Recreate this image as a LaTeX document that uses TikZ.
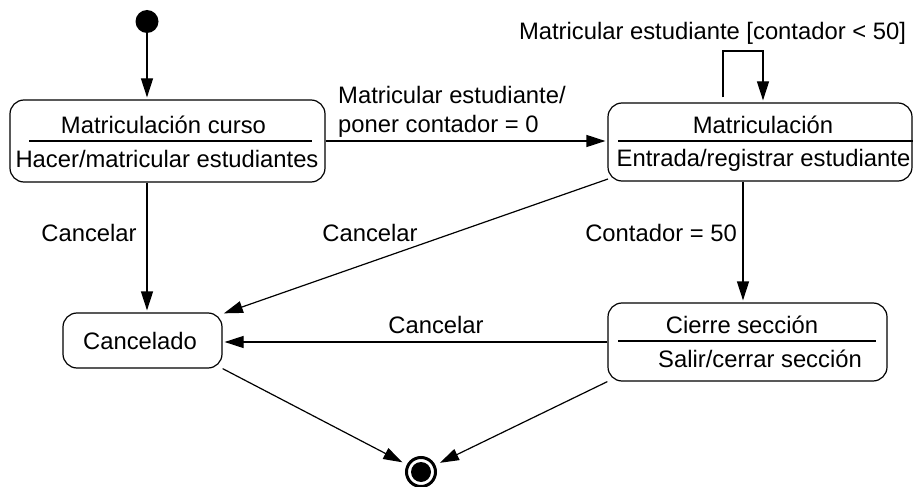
\documentclass[tikz,border=0pt]{standalone}
\usepackage{fontspec}
\setmainfont{Liberation Sans}
\usetikzlibrary{arrows.meta}
\begin{document}
\begin{tikzpicture}[x=1pt,y=-1pt,
  state/.style={draw,line width=1.2pt,rounded corners=14pt,inner sep=0pt},
  lbl/.style={font=\fontsize{23.8}{28}\selectfont,inner sep=0pt,anchor=base},
  arr/.style={line width=1.2pt,-{Triangle[length=19pt,width=12pt]},shorten >=2pt},
  sep/.style={line width=1.2pt}]
\useasboundingbox (0,0) rectangle (914,487);
% states
\node[state,minimum width=315pt,minimum height=82pt] (b1) at (167.5,141) {};
\node[state,minimum width=304pt,minimum height=78pt] (b2) at (760,142) {};
\node[state,minimum width=159pt,minimum height=55pt] (b3) at (142.5,340.5) {};
\node[state,minimum width=279pt,minimum height=78pt] (b4) at (747.5,342) {};
\node[circle,fill=black,minimum size=23pt,inner sep=0pt] (init) at (147,21.5) {};
\node[circle,draw,line width=3pt,minimum size=29pt,inner sep=0pt] (fin) at (421,472) {};
\node[circle,fill=black,minimum size=20pt,inner sep=0pt] (finin) at (fin) {};
% texts in states
\node[lbl] (t1a) at (163.5,133) {Matriculación curso};
\node[lbl] (t1b) at (167,167) {Hacer/matricular estudiantes};
\draw[sep] (29,141) -- (312,141);
\node[lbl] (t2a) at (763,133) {Matriculación};
\node[lbl] (t2b) at (763.5,166) {Entrada/registrar estudiante};
\draw[sep] (618,141) -- (b2.east |- 0,141);
\node[lbl] (t3) at (140,349) {Cancelado};
\node[lbl] (t4a) at (742,333) {Cierre sección};
\node[lbl] (t4b) at (760,367) {Salir/cerrar sección};
\draw[sep] (618,341) -- (876,341);
% transition labels
\node[lbl,anchor=base west] (l1a) at (338,103) {Matricular estudiante/};
\node[lbl,anchor=base west] (l1b) at (338,132) {poner contador = 0};
\node[lbl] (l2) at (712.5,40) {Matricular estudiante [contador < 50]};
\node[lbl] (l3) at (89,241.5) {Cancelar};
\node[lbl] (l4) at (370,241.5) {Cancelar};
\node[lbl,anchor=base east] (l5) at (737,241.5) {Contador = 50};
\node[lbl] (l6) at (436,333) {Cancelar};
% transitions
\draw[arr] (init) -- (init |- b1.north);
\draw[arr] (b1.east) -- (b1.east -| b2.west);
\draw[arr] (b1.south -| init) -- (b3.north -| init);
\coordinate (c2a) at (608,179);
\coordinate (c3a) at (222,314);
\draw[arr] (c2a) -- (c3a);
\draw[arr] (b2.south -| 743,0) -- (b4.north -| 743,0);
\draw[arr] (b4.west) -- (b4.west -| b3.east);
\coordinate (la) at (723,51);
\coordinate (lb) at (763,51);
\draw[arr,shorten <=5pt] (b2.north -| la) -- (la) -- (lb) -- (b2.north -| lb);
\draw[arr,shorten >=5pt] (b3.south east) -- (fin);
\draw[arr,shorten >=5pt] (b4.south west) -- (fin);
\end{tikzpicture}
\end{document}
